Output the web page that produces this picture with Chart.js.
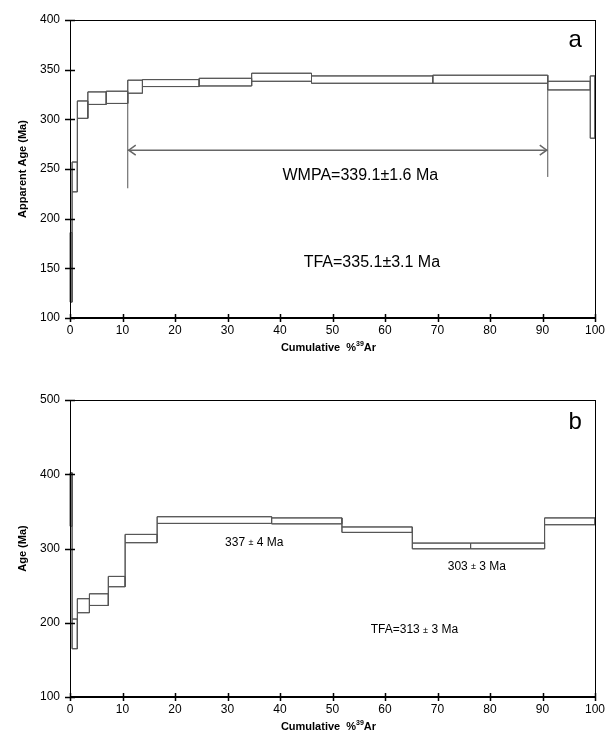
<!DOCTYPE html>
<html>
<head>
<meta charset="utf-8">
<script src="https://cdn.jsdelivr.net/npm/chart.js@4.4.0/dist/chart.umd.min.js"></script>
<style>
  body { margin: 0; background: #fff; width: 606px; height: 744px; overflow: hidden; }
  .box { position: absolute; left: 0; width: 606px; }
</style>
</head>
<body>
<div class="box" style="top:0;height:370px"><canvas id="chartA"></canvas></div>
<div class="box" style="top:380px;height:364px"><canvas id="chartB"></canvas></div>
<script>
// ---- data: panel a ----
const stepEdgesA = [0, 0.4, 1.4, 3.4, 6.9, 11.0, 13.8, 24.6, 34.6, 46.0, 69.1, 91.0, 99.1, 100];
const ageHighA   = [186, 257, 318.5, 327.6, 328.3, 339.4, 340, 341.3, 346.4, 343.7, 344.4, 338.3, 343.7];
const ageLowA    = [116, 227, 301, 315, 316, 326.3, 333, 333.6, 338.3, 336.3, 336.3, 329.6, 281];
const plateauA   = [11.0, 91.0];
const plateauArrowAge = 269;
const markerFromA = [230.6, 242];
const markerToA   = [326.3, 336.3];
const yTicksA = [100, 150, 200, 250, 300, 350, 400];

// ---- data: panel b ----
const stepEdgesB = [0, 0.4, 1.4, 3.7, 7.3, 10.5, 16.6, 38.4, 51.8, 65.2, 76.3, 90.4, 100];
const ageHighB   = [402, 205, 232.4, 239, 262.4, 319, 342.8, 341.2, 329, 307.3, 307.3, 341.2];
const ageLowB    = [330, 165, 213.5, 223.3, 248.5, 307.8, 333.8, 333.2, 321.7, 299.6, 299.6, 332];
const yTicksB = [100, 200, 300, 400, 500];

const xTicks = [0, 10, 20, 30, 40, 50, 60, 70, 80, 90, 100];

const FONT = "'Liberation Sans', Arial, sans-serif";
const LINE = '#555';

function line(data, extra) {
    return Object.assign({
        data, showLine: true, borderColor: LINE, borderWidth: 1,
        pointRadius: 0, fill: false, tension: 0, clip: false
    }, extra || {});
}

function stepSets(edges, hi, lo) {
    const sets = [];
    for (let i = 0; i < hi.length; i++) {
        sets.push(line([
            { x: edges[i], y: lo[i] }, { x: edges[i], y: hi[i] },
            { x: edges[i + 1], y: hi[i] }, { x: edges[i + 1], y: lo[i] },
            { x: edges[i], y: lo[i] }
        ]));
    }
    const last = edges[edges.length - 1];
    sets.push(line(hi.map((v, i) => ({ x: edges[i], y: v })).concat([{ x: last, y: hi[hi.length - 1] }]), { stepped: true }));
    sets.push(line(lo.map((v, i) => ({ x: edges[i], y: v })).concat([{ x: last, y: lo[lo.length - 1] }]), { stepped: true }));
    return sets;
}

// frame, crossing ticks, arrow heads, texts
const framePlugin = {
    id: 'frame',
    afterDatasetsDraw(chart, args, opts) {
        const { ctx, chartArea: a, scales: { x, y } } = chart;
        ctx.save();
        ctx.strokeStyle = '#000';
        ctx.lineWidth = 1;
        ctx.strokeRect(a.left + 0.5, a.top + 0.5, a.right - a.left, a.bottom - a.top);
        ctx.lineWidth = 2;
        ctx.beginPath();
        ctx.moveTo(a.left, a.bottom); ctx.lineTo(a.right + 1, a.bottom);
        ctx.stroke();
        ctx.lineWidth = 1.5;
        ctx.beginPath();
        y.ticks.forEach(t => {
            const py = Math.round(y.getPixelForValue(t.value)) + 0.5;
            ctx.moveTo(a.left - 5, py); ctx.lineTo(a.left + 5, py);
        });
        x.ticks.forEach(t => {
            const px = Math.round(x.getPixelForValue(t.value)) + 0.5;
            ctx.moveTo(px, a.bottom - 4); ctx.lineTo(px, a.bottom + 4);
        });
        ctx.stroke();

        if (opts.arrow) {
            const yy = y.getPixelForValue(opts.arrow.age);
            const l = x.getPixelForValue(opts.arrow.from), r = x.getPixelForValue(opts.arrow.to);
            ctx.strokeStyle = '#666';
            ctx.lineWidth = 1.5;
            ctx.beginPath();
            ctx.moveTo(l + 8, yy - 5); ctx.lineTo(l + 1, yy); ctx.lineTo(l + 8, yy + 5);
            ctx.moveTo(r - 8, yy - 5); ctx.lineTo(r - 1, yy); ctx.lineTo(r - 8, yy + 5);
            ctx.stroke();
        }

        ctx.fillStyle = '#000';
        ctx.textBaseline = 'middle';
        (opts.notes || []).forEach(n => {
            const parts = n.parts.map(p => ({ t: p[0], f: p[1] + 'px ' + FONT }));
            let w = 0;
            parts.forEach(p => { ctx.font = p.f; p.w = ctx.measureText(p.t).width; w += p.w; });
            let px = x.getPixelForValue(n.x) - w / 2;
            const py = y.getPixelForValue(n.y);
            parts.forEach(p => { ctx.font = p.f; ctx.textAlign = 'left'; ctx.fillText(p.t, px, py); px += p.w; });
        });

        // x axis title with superscript
        const tParts = [['Cumulative  %', 11, 0], ['39', 7, -4], ['Ar', 11, 0]];
        let tw = 0;
        tParts.forEach(p => { ctx.font = 'bold ' + p[1] + 'px ' + FONT; p.w = ctx.measureText(p[0]).width; tw += p.w; });
        let tx = (a.left + a.right) / 2 - tw / 2 - 4;
        const ty = a.bottom + 30;
        tParts.forEach(p => {
            ctx.font = 'bold ' + p[1] + 'px ' + FONT;
            ctx.fillText(p[0], tx, ty + p[2]);
            tx += p.w;
        });
        ctx.restore();
    }
};

function makeChart(id, cfg) {
    return new Chart(document.getElementById(id), {
        type: 'scatter',
        data: { datasets: cfg.datasets },
        options: {
            responsive: true,
            maintainAspectRatio: false,
            animation: false,
            layout: { padding: { top: 20, right: 11, left: 0, bottom: 0 } },
            plugins: {
                legend: { display: false },
                tooltip: { enabled: false },
                frame: cfg.frame
            },
            scales: {
                x: {
                    type: 'linear', min: xTicks[0], max: xTicks[xTicks.length - 1],
                    ticks: { stepSize: xTicks[1] - xTicks[0], padding: 5, color: '#000', font: { family: FONT, size: 12 } },
                    grid: { display: false, drawTicks: false },
                    border: { display: false },
                    afterFit: s => { s.height = cfg.xHeight; s.paddingLeft = 0; s.paddingRight = 0; }
                },
                y: {
                    type: 'linear', min: cfg.yTicks[0], max: cfg.yTicks[cfg.yTicks.length - 1],
                    ticks: { stepSize: cfg.yTicks[1] - cfg.yTicks[0], padding: 10, color: '#000', font: { family: FONT, size: 12 } },
                    grid: { display: false, drawTicks: false },
                    border: { display: false },
                    title: { display: true, text: cfg.yTitle, color: '#000', font: { family: FONT, size: 11, weight: 'bold' }, padding: { top: 16, bottom: 0 } },
                    afterFit: s => { s.width = 70; s.paddingTop = 0; s.paddingBottom = 0; }
                }
            }
        },
        plugins: [framePlugin]
    });
}

// Panel a
const setsA = stepSets(stepEdgesA, ageHighA, ageLowA);
setsA.push(line([{ x: plateauA[0], y: plateauArrowAge }, { x: plateauA[1], y: plateauArrowAge }], { borderColor: '#666', borderWidth: 1.5 }));
plateauA.forEach((p, i) => setsA.push(line([{ x: p, y: markerFromA[i] }, { x: p, y: markerToA[i] }])));

makeChart('chartA', {
    datasets: setsA,
    yTicks: yTicksA,
    yTitle: 'Apparent Age (Ma)',
    xHeight: 52,
    frame: {
        arrow: { from: plateauA[0], to: plateauA[1], age: plateauArrowAge },
        notes: [
            { x: 55.3, y: 243, parts: [['WMPA=339.1\u00b11.6 Ma', 16]] },
            { x: 57.5, y: 156, parts: [['TFA=335.1\u00b13.1 Ma', 16]] },
            { x: 96.2, y: 379, parts: [['a', 24]] }
        ]
    }
});

// Panel b
makeChart('chartB', {
    datasets: stepSets(stepEdgesB, ageHighB, ageLowB),
    yTicks: yTicksB,
    yTitle: 'Age (Ma)',
    xHeight: 47,
    frame: {
        notes: [
            { x: 35.1, y: 308, parts: [['337 ', 12], ['\u00b1', 9], [' 4 Ma', 12]] },
            { x: 77.5, y: 276, parts: [['303 ', 12], ['\u00b1', 9], [' 3 Ma', 12]] },
            { x: 65.6, y: 190, parts: [['TFA=313 ', 12], ['\u00b1', 9], [' 3 Ma', 12]] },
            { x: 96.2, y: 470, parts: [['b', 24]] }
        ]
    }
});
</script>
</body>
</html>
